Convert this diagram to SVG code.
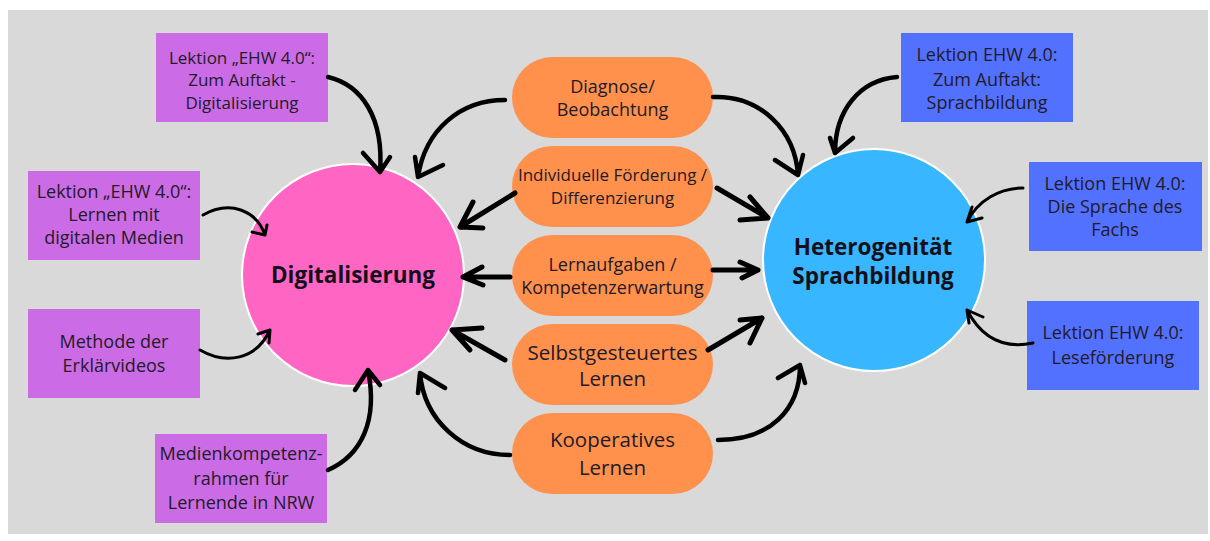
<svg xmlns="http://www.w3.org/2000/svg" width="1210" height="541" viewBox="0 0 1210 541">
<style>
.t{font-family:"Open Sans","Noto Sans","Liberation Sans",sans-serif;font-size:18px;fill:#231a28;text-anchor:middle}
.sm{font-size:17px}
.big{font-size:20.5px}
.b{font-family:"Open Sans","Noto Sans","Liberation Sans",sans-serif;font-size:22.5px;font-weight:700;fill:#14101a;text-anchor:middle}
.pb{fill:#cb6ce6}
.bb{fill:#5271ff}
.pill{fill:#ff914d}
.a{fill:none;stroke:#000;stroke-width:4.5;stroke-linecap:round;stroke-linejoin:round}
.th{stroke-width:3}
.st{stroke-width:5}
</style>
<rect x="0" y="0" width="1210" height="541" fill="#ffffff"/>
<rect x="8" y="10" width="1200" height="524" fill="#d9d9d9"/>

<g id="digitalisierung">
<circle cx="353" cy="275" r="111" fill="#ff66c4" stroke="#ffffff" stroke-width="2"/>
<text class="b" x="353" y="283">Digitalisierung</text>
</g>
<g id="heterogenitaet">
<circle cx="874" cy="260" r="111" fill="#38b6ff" stroke="#ffffff" stroke-width="2"/>
<text class="b" x="873" y="255">Heterogenität</text>
<text class="b" x="873" y="284">Sprachbildung</text>
</g>

<g id="box-l1"><rect class="pb" x="156" y="33" width="172" height="89"/>
<text class="t sm" x="242" y="64">Lektion „EHW 4.0“:</text>
<text class="t sm" x="242" y="86">Zum Auftakt -</text>
<text class="t sm" x="242" y="109">Digitalisierung</text></g>
<g id="box-l2"><rect class="pb" x="28" y="171" width="172" height="89"/>
<text class="t" x="114" y="198">Lektion „EHW 4.0“:</text>
<text class="t" x="114" y="221">Lernen mit</text>
<text class="t" x="114" y="244">digitalen Medien</text></g>
<g id="box-l3"><rect class="pb" x="28" y="309" width="172" height="89"/>
<text class="t" x="114" y="348">Methode der</text>
<text class="t" x="114" y="372">Erklärvideos</text></g>
<g id="box-l4"><rect class="pb" x="155" y="434" width="172" height="89"/>
<text class="t" x="241" y="460">Medienkompetenz-</text>
<text class="t" x="241" y="485">rahmen für</text>
<text class="t" x="241" y="509">Lernende in NRW</text></g>

<g id="box-r1"><rect class="bb" x="901" y="33" width="172" height="89"/>
<text class="t" x="987" y="61">Lektion EHW 4.0:</text>
<text class="t" x="987" y="86">Zum Auftakt:</text>
<text class="t" x="987" y="109">Sprachbildung</text></g>
<g id="box-r2"><rect class="bb" x="1029" y="162" width="173" height="89"/>
<text class="t" x="1115" y="190">Lektion EHW 4.0:</text>
<text class="t" x="1115" y="213">Die Sprache des</text>
<text class="t" x="1115" y="236">Fachs</text></g>
<g id="box-r3"><rect class="bb" x="1027" y="301" width="172" height="89"/>
<text class="t" x="1113" y="339">Lektion EHW 4.0:</text>
<text class="t" x="1113" y="364">Leseförderung</text></g>

<g id="pill-1"><rect class="pill" x="512" y="57" width="201" height="81" rx="40.5"/>
<text class="t" x="612.5" y="93">Diagnose/</text>
<text class="t" x="612.5" y="116">Beobachtung</text></g>
<g id="pill-2"><rect class="pill" x="512" y="146" width="201" height="81" rx="40.5"/>
<text class="t sm" x="612.5" y="181">Individuelle Förderung /</text>
<text class="t sm" x="612.5" y="204">Differenzierung</text></g>
<g id="pill-3"><rect class="pill" x="512" y="235" width="201" height="81" rx="40.5"/>
<text class="t" x="612.5" y="271">Lernaufgaben /</text>
<text class="t" x="612.5" y="294">Kompetenzerwartung</text></g>
<g id="pill-4"><rect class="pill" x="512" y="324" width="201" height="81" rx="40.5"/>
<text class="t big" x="612.5" y="360">Selbstgesteuertes</text>
<text class="t big" x="612.5" y="386">Lernen</text></g>
<g id="pill-5"><rect class="pill" x="512" y="413" width="201" height="81" rx="40.5"/>
<text class="t big" x="612.5" y="447">Kooperatives</text>
<text class="t big" x="612.5" y="475">Lernen</text></g>

<g id="connectors">
<path class="a" d="M328,77 C362,85 384,118 380,172 M363,153 L380,172 L390,157"/>
<path class="a th" d="M203,215 C230,200 256,210 265,235 M252,232 L265,235 L267,225"/>
<path class="a th" d="M200,350 C226,365 256,360 270,330 M258,334 L270,330 L269,343"/>
<path class="a" d="M328,470 C362,455 378,420 368,370 M355,390 L368,370 L380,385"/>
<path class="a" d="M505,100 C460,100 425,130 418,177 M415,157 L418,177 L443,165"/>
<path class="a st" d="M515,193 L460,227 M473,202 L460,227 L483,228"/>
<path class="a st" d="M510,277 L463,277 M482,267 L463,277 L483,285"/>
<path class="a st" d="M505,360 L452,330 M482,328 L452,330 L470,350"/>
<path class="a" d="M510,455 C462,455 424,420 420,373 M418,393 L420,373 L445,388"/>
<path class="a" d="M713,97 C760,95 795,130 798,175 M775,160 L798,175 L803,155"/>
<path class="a st" d="M717,188 L768,218 M750,197 L768,218 L740,220"/>
<path class="a st" d="M713,270 L758,270 M740,262 L758,270 L742,278"/>
<path class="a st" d="M708,350 L762,318 M740,320 L762,318 L750,343"/>
<path class="a" d="M718,440 C770,440 800,410 800,365 M778,378 L800,365 L805,383"/>
<path class="a" d="M897,77 C860,80 835,110 835,153 M830,138 L835,153 L853,138"/>
<path class="a th" d="M1023,188 C1000,188 978,200 967,222 M972,207 L967,222 L982,218"/>
<path class="a th" d="M1033,343 C1000,350 980,335 967,310 M969,323 L967,310 L983,317"/>
</g>
</svg>
